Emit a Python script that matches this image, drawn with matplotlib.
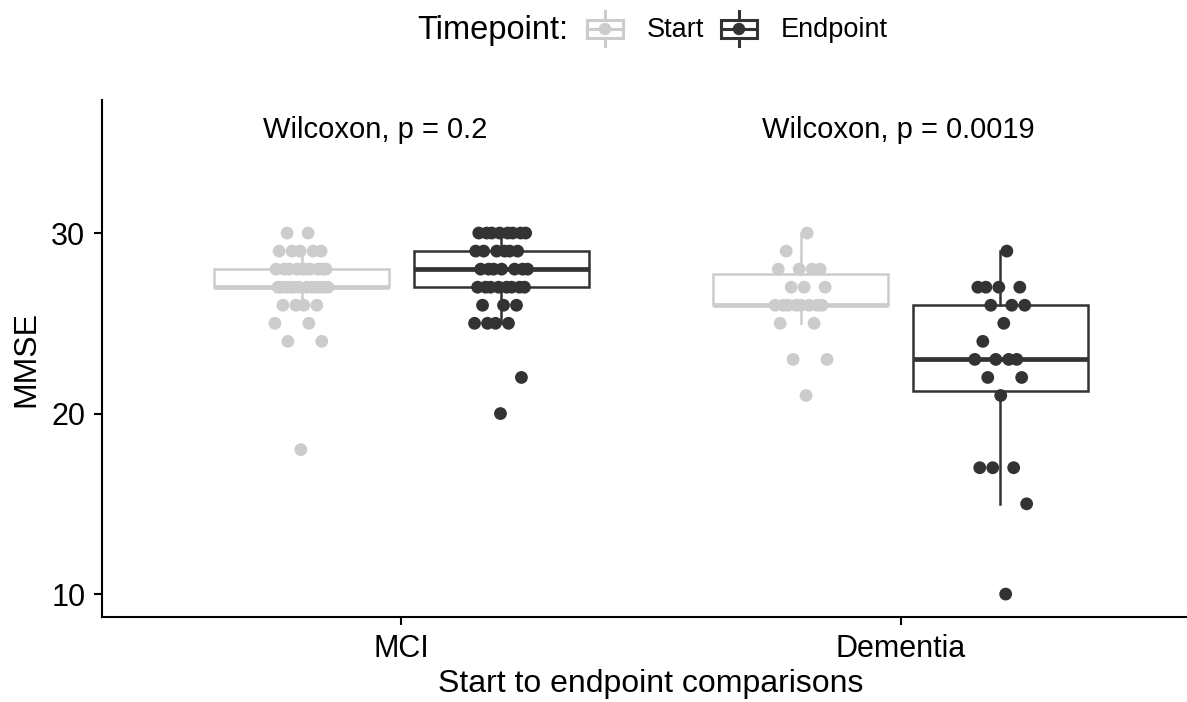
import numpy as np
import matplotlib
matplotlib.use("Agg")
import matplotlib.pyplot as plt
from matplotlib.patches import Rectangle

plt.rcParams['font.family'] = ['Liberation Sans', 'DejaVu Sans']

# data
groups = ["MCI", "Dementia"]
timepoints = ["Start", "Endpoint"]
colors = {"Start": "#cccccc", "Endpoint": "#333333"}

mci_start = [30, 30, 29, 29, 29, 29, 29,
             28, 28, 28, 28, 28, 28, 28, 28, 28, 28,
             27, 27, 27, 27, 27, 27, 27, 27, 27, 27, 27, 27,
             26, 26, 26, 26, 25, 25, 24, 24, 18]
mci_end = [30, 30, 30, 30, 30, 30, 30, 30,
           29, 29, 29, 29, 29, 29,
           28, 28, 28, 28, 28, 28, 28,
           27, 27, 27, 27, 27, 27, 27, 27,
           26, 26, 26, 25, 25, 25, 25, 22, 20]
dem_start = [30, 29, 28, 28, 28, 28, 27, 27, 27,
             26, 26, 26, 26, 26, 26, 26, 26, 25, 25, 23, 23, 21]
dem_end = [29, 27, 27, 27, 27, 26, 26, 26, 25, 24,
           23, 23, 23, 23, 22, 22, 21, 17, 17, 17, 15, 10]

values = {("MCI", "Start"): mci_start, ("MCI", "Endpoint"): mci_end,
          ("Dementia", "Start"): dem_start, ("Dementia", "Endpoint"): dem_end}
p_labels = ["Wilcoxon, p = 0.2", "Wilcoxon, p = 0.0019"]

W, H = 1187, 702
fig = plt.figure(figsize=(W / 100, H / 100), dpi=100)
ax = fig.add_axes([102 / W, 85 / H, 1098 / W, 517 / H])

dodge = {"Start": -0.2, "Endpoint": 0.2}
for gi, g in enumerate(groups):
    for t in timepoints:
        c = colors[t]
        pos = gi + 1 + dodge[t]
        v = np.array(values[(g, t)])
        ax.boxplot([v], positions=[pos], widths=0.35, showfliers=False, showcaps=False,
                   patch_artist=True, manage_ticks=False,
                   boxprops=dict(facecolor="white", edgecolor=c, linewidth=1.8),
                   medianprops=dict(color=c, linewidth=3.4),
                   whiskerprops=dict(color=c, linewidth=1.8), zorder=1)
        # deterministic jitter (golden ratio sequence)
        jit = ((np.arange(1, len(v) + 1) * 0.6180339887) % 1 - 0.5) * 0.11
        ax.scatter(pos + jit, v, s=85, color=c, edgecolors="none", zorder=3)
    ax.text(gi + 1 - 0.278, 35.7, p_labels[gi], fontsize=21, ha="left", va="center")

ax.set_xlim(0.4, 2.6)
ax.set_ylim(8.73, 37.37)
ax.set_xticks([1, 2])
ax.set_xticklabels(groups)
ax.set_yticks([10, 20, 30])
ax.tick_params(labelsize=22, width=1.5, length=6, colors="black", pad=6)
ax.set_xlabel("Start to endpoint comparisons", fontsize=23, labelpad=4)
ax.set_ylabel("MMSE", fontsize=23, labelpad=7)
for s in ["top", "right"]:
    ax.spines[s].set_visible(False)
for s in ["left", "bottom"]:
    ax.spines[s].set_linewidth(1.5)

# legend drawn in figure pixel space
lax = fig.add_axes([0, 0, 1, 1], zorder=5)
lax.set_xlim(0, W)
lax.set_ylim(H, 0)
lax.axis("off")
lax.text(417, 30, "Timepoint:", fontsize=23.5, ha="left", va="center")
for t, kx, tx in [("Start", 587, 647), ("Endpoint", 721, 781)]:
    c = colors[t]
    lax.add_patch(Rectangle((kx, 20), 36, 18, facecolor="white", edgecolor=c, linewidth=2.2))
    lax.plot([kx, kx + 36], [29, 29], color=c, linewidth=2.2)
    lax.plot([kx + 18, kx + 18], [11, 20], color=c, linewidth=2.2)
    lax.plot([kx + 18, kx + 18], [38, 46], color=c, linewidth=2.2)
    lax.scatter([kx + 18], [29], s=80, color=c, edgecolors="none")
    lax.text(tx, 30, t, fontsize=19.5, ha="left", va="center")

fig.savefig("out.png", dpi=100)
